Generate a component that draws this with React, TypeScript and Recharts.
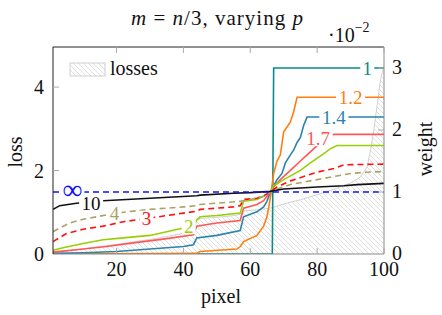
import React from 'react';
import { ComposedChart, Line, Area, XAxis, YAxis, ReferenceDot } from 'recharts';

const FONT = "'Liberation Serif', 'Times New Roman', serif";

// axis ticks
const PIXEL_TICKS = [20, 40, 60, 80, 100];
const LOSS_TICKS = [0, 2, 4];
const WEIGHT_TICKS = [0, 1, 2, 3];

// sorted per-pixel losses (×10^-2), as [pixel, loss]
const LOSSES: [number, number][] = [
  [1, 0.03], [5, 0.07], [10, 0.12], [15, 0.18], [20, 0.23], [25, 0.29], [30, 0.35],
  [35, 0.42], [40, 0.5], [43, 0.56], [44, 0.8], [45, 0.85], [50, 0.88], [55, 0.92],
  [57, 0.95], [58, 1.03], [62, 1.06], [66, 1.1], [67, 1.12], [70, 1.2], [75, 1.3],
  [80, 1.42], [85, 1.55], [90, 1.7], [93, 1.85], [95, 2.1], [96, 2.5], [97, 3.0],
  [98, 3.6], [99, 4.2], [100, 4.5],
];

// weights per pixel for each exponent p, as [pixel, weight]
const W_P1: [number, number][] = [[1, 0], [66.6, 0], [67, 3], [100, 3]];
const W_P12: [number, number][] = [
  [1, 0], [44, 0.01], [45, 0.04], [56, 0.08], [57, 0.12], [58, 0.2], [62, 0.3], [64, 0.45],
  [65, 0.6], [66, 0.9], [67, 1.3], [68, 1.5], [69, 1.6], [70, 1.97], [71, 2.05], [72, 2.13],
  [73, 2.3], [74, 2.53], [100, 2.53],
];
const W_P14: [number, number][] = [
  [1, 0.01], [10, 0.02], [20, 0.04], [30, 0.08], [40, 0.12], [43, 0.15], [44, 0.26], [50, 0.3],
  [57, 0.38], [58, 0.6], [62, 0.68], [64, 0.76], [65, 0.85], [66, 1.0], [67, 1.1], [68, 1.2],
  [69.5, 1.3], [70.5, 1.47], [72, 1.6], [73, 1.68], [74, 1.8], [75, 1.88], [76, 2.08],
  [77, 2.21], [100, 2.21],
];
const W_P17: [number, number][] = [
  [1, 0.03], [10, 0.08], [17, 0.12], [25, 0.18], [34, 0.24], [43, 0.31], [44, 0.45], [50, 0.5],
  [57, 0.54], [58, 0.74], [62, 0.8], [64, 0.86], [66, 1.0], [67, 1.08], [69, 1.2], [72, 1.35],
  [75, 1.5], [77, 1.6], [80, 1.75], [83, 1.88], [85, 1.93], [100, 1.93],
];
const W_P2: [number, number][] = [
  [1, 0.06], [4, 0.1], [10, 0.17], [16, 0.23], [22, 0.26], [30, 0.3], [35, 0.36], [40, 0.42],
  [43, 0.46], [44, 0.55], [45, 0.6], [50, 0.62], [57, 0.66], [58, 0.85], [62, 0.88], [64, 0.93],
  [66, 1.0], [67, 1.1], [70, 1.2], [75, 1.35], [78, 1.47], [82, 1.62], [84, 1.7], [86, 1.75],
  [100, 1.75],
];
const W_P3: [number, number][] = [
  [1, 0.2], [5, 0.33], [10, 0.4], [16, 0.45], [22, 0.52], [30, 0.58], [40, 0.66], [44, 0.69],
  [45, 0.72], [55, 0.76], [57, 0.78], [58, 0.88], [62, 0.9], [64, 0.94], [66, 1.0], [68, 1.08],
  [72, 1.18], [80, 1.32], [85, 1.38], [88, 1.44], [100, 1.45],
];
const W_P4: [number, number][] = [
  [1, 0.36], [3, 0.42], [6, 0.5], [10, 0.56], [19, 0.65], [23, 0.68], [30, 0.72], [40, 0.76],
  [44, 0.78], [45, 0.8], [57, 0.85], [60, 0.88], [64, 0.93], [66, 1.0], [68, 1.05], [72, 1.12],
  [80, 1.2], [85, 1.25], [90, 1.3], [95, 1.32], [100, 1.33],
];
const W_P10: [number, number][] = [
  [1, 0.72], [3, 0.78], [8, 0.82], [16, 0.86], [30, 0.9], [44, 0.94], [45, 0.95], [55, 0.98],
  [60, 0.99], [66, 1.01], [70, 1.05], [80, 1.08], [88, 1.1], [92, 1.12], [100, 1.14],
];
const W_PINF: [number, number][] = [[1, 1], [100, 1]];

// inline series labels: [text, pixel, weight]
const LABEL_P1: [string, number, number] = ['1', 95, 3.0];
const LABEL_P12: [string, number, number] = ['1.2', 90, 2.53];
const LABEL_P14: [string, number, number] = ['1.4', 85, 2.21];
const LABEL_P17: [string, number, number] = ['1.7', 80.3, 1.87];
const LABEL_P2: [string, number, number] = ['2', 41.6, 0.45];
const LABEL_P3: [string, number, number] = ['3', 29, 0.57];
const LABEL_P4: [string, number, number] = ['4', 19.4, 0.66];
const LABEL_P10: [string, number, number] = ['10', 12.4, 0.82];
const LABEL_PINF: [string, number, number] = ['∞', 6.8, 1.0];

const toRows = (pts: [number, number][]) => pts.map(([x, y]) => ({ x, y }));

const SERIES = [
  { key: 'p1', pts: W_P1, label: LABEL_P1, color: '#0a8a8a', dash: undefined },
  { key: 'p12', pts: W_P12, label: LABEL_P12, color: '#ff7f0e', dash: undefined },
  { key: 'p14', pts: W_P14, label: LABEL_P14, color: '#2a84ad', dash: undefined },
  { key: 'p17', pts: W_P17, label: LABEL_P17, color: '#ff5757', dash: undefined },
  { key: 'p2', pts: W_P2, label: LABEL_P2, color: '#96d000', dash: undefined },
  { key: 'p3', pts: W_P3, label: LABEL_P3, color: '#ff1010', dash: '6 4' },
  { key: 'p4', pts: W_P4, label: LABEL_P4, color: '#aca264', dash: '6 4' },
  { key: 'p10', pts: W_P10, label: LABEL_P10, color: '#111111', dash: undefined },
  { key: 'pinf', pts: W_PINF, label: LABEL_PINF, color: '#1010ff', dash: '6 4' },
];

const TICK_COLOR = '#aaaaaa';

const BottomTick = (props: any) => {
  const { x, y, payload } = props;
  return (
    <g>
      <line x1={x} x2={x} y1={y} y2={y - 6} stroke={TICK_COLOR} />
      <text x={x} y={y + 22} textAnchor="middle" fontSize={20} fontFamily={FONT} fill="#111">
        {payload.value}
      </text>
    </g>
  );
};

const TopTick = (props: any) => {
  const { x, y } = props;
  return <line x1={x} x2={x} y1={y} y2={y + 6} stroke={TICK_COLOR} />;
};

const LeftTick = (props: any) => {
  const { x, y, payload } = props;
  return (
    <g>
      {payload.value !== 0 && <line x1={x} x2={x + 6} y1={y} y2={y} stroke={TICK_COLOR} />}
      <text x={x - 9} y={y + 7} textAnchor="end" fontSize={20} fontFamily={FONT} fill="#111">
        {payload.value}
      </text>
    </g>
  );
};

const RightTick = (props: any) => {
  const { x, y, payload } = props;
  return (
    <g>
      {payload.value !== 0 && <line x1={x} x2={x - 6} y1={y} y2={y} stroke={TICK_COLOR} />}
      <text x={x + 8} y={y + 6} textAnchor="start" fontSize={20} fontFamily={FONT} fill="#111">
        {payload.value}
      </text>
    </g>
  );
};

const charWidth = (c: string) => (c === '.' ? 5 : c === '∞' ? 20 : 10);

const makeLabelShape = (text: string, color: string) => (props: any) => {
  const { cx, cy } = props;
  const w = text.split('').reduce((s, c) => s + charWidth(c), 0);
  const isInf = text === '∞';
  return (
    <g>
      <rect x={cx - w / 2 - 2} y={cy - 8} width={w + 4} height={16} fill="#fff" />
      <text
        x={cx}
        y={isInf ? cy + 7 : cy + 6.5}
        textAnchor="middle"
        fontSize={isInf ? 28 : 19}
        fontFamily={FONT}
        fill={color}
      >
        {text}
      </text>
    </g>
  );
};

export default function App() {
  const lossRows = toRows(LOSSES);
  return (
    <div style={{ position: 'absolute', left: 0, top: 0, width: 442, height: 315, background: '#fff' }}>
      <ComposedChart
        width={442}
        height={315}
        margin={{ top: 37, right: 18, bottom: 31, left: 13 }}
        style={{ position: 'absolute', left: 0, top: 0 }}
      >
        <defs>
          <pattern id="hatch" width="5" height="5" patternUnits="userSpaceOnUse">
            <path d="M-1,-1 L6,6 M-1,4 L1,6 M4,-1 L6,1" stroke="#cacaca" strokeWidth="0.6" />
          </pattern>
        </defs>
        <XAxis
          xAxisId="b"
          type="number"
          dataKey="x"
          domain={[1, 100]}
          ticks={PIXEL_TICKS}
          height={30}
          axisLine={{ stroke: '#8a8a8a' }}
          tickLine={false}
          tickSize={0}
          tickMargin={0}
          tick={BottomTick}
          allowDataOverflow
        />
        <XAxis
          xAxisId="t"
          orientation="top"
          type="number"
          dataKey="x"
          domain={[1, 100]}
          ticks={PIXEL_TICKS}
          height={10}
          axisLine={{ stroke: '#222' }}
          tickLine={false}
          tickSize={0}
          tickMargin={0}
          tick={TopTick}
          allowDataOverflow
        />
        <YAxis
          yAxisId="loss"
          orientation="left"
          type="number"
          domain={[0, 4.96]}
          ticks={LOSS_TICKS}
          width={40}
          axisLine={{ stroke: '#222' }}
          tickLine={false}
          tickSize={0}
          tickMargin={0}
          tick={LeftTick}
          allowDataOverflow
        />
        <YAxis
          yAxisId="w"
          orientation="right"
          type="number"
          domain={[0, 3.34]}
          ticks={WEIGHT_TICKS}
          width={40}
          axisLine={{ stroke: '#8a8a8a' }}
          tickLine={false}
          tickSize={0}
          tickMargin={0}
          tick={RightTick}
          allowDataOverflow
        />
        <Area
          xAxisId="b"
          yAxisId="loss"
          data={lossRows}
          dataKey="y"
          type="linear"
          stroke="#d2d2d2"
          strokeWidth={1}
          fill="url(#hatch)"
          fillOpacity={1}
          dot={false}
          activeDot={false}
          isAnimationActive={false}
        />
        {SERIES.map((s) => (
          <Line
            key={s.key}
            xAxisId="b"
            yAxisId="w"
            data={toRows(s.pts)}
            dataKey="y"
            type="linear"
            stroke={s.color}
            strokeWidth={1.6}
            strokeDasharray={s.dash}
            dot={false}
            activeDot={false}
            isAnimationActive={false}
          />
        ))}
        {SERIES.map((s) => (
          <ReferenceDot
            key={'lbl-' + s.key}
            xAxisId="b"
            yAxisId="w"
            x={s.label[1]}
            y={s.label[2]}
            r={0}
            shape={makeLabelShape(s.label[0], s.color)}
          />
        ))}
      </ComposedChart>
      <svg
        width={442}
        height={315}
        style={{ position: 'absolute', left: 0, top: 0, pointerEvents: 'none' }}
      >
        <defs>
          <pattern id="hatchLegend" width="5" height="5" patternUnits="userSpaceOnUse">
            <path d="M-1,-1 L6,6 M-1,4 L1,6 M4,-1 L6,1" stroke="#cacaca" strokeWidth="0.6" />
          </pattern>
        </defs>
        <text
          x={217}
          y={25}
          textAnchor="middle"
          fontSize={21}
          fontFamily={FONT}
          fill="#111"
          textLength={172}
          lengthAdjust="spacing"
        >
          <tspan fontStyle="italic">m</tspan>
          <tspan> = </tspan>
          <tspan fontStyle="italic">n</tspan>
          <tspan>/3, varying </tspan>
          <tspan fontStyle="italic">p</tspan>
        </text>
        <text x={328} y={42} fontSize={20} fontFamily={FONT} fill="#111">
          ·10
          <tspan dy={-10} fontSize={14}>−2</tspan>
        </text>
        <rect x={70} y={63} width={35} height={13} fill="url(#hatchLegend)" stroke="#cfcfcf" strokeWidth={1} />
        <text x={110} y={75} fontSize={20} fontFamily={FONT} fill="#111">
          losses
        </text>
        <text x={221} y={303} textAnchor="middle" fontSize={20} fontFamily={FONT} fill="#111">
          pixel
        </text>
        <text
          x={22}
          y={152}
          textAnchor="middle"
          fontSize={20}
          fontFamily={FONT}
          fill="#111"
          transform="rotate(-90 22 152)"
        >
          loss
        </text>
        <text
          x={432}
          y={149}
          textAnchor="middle"
          fontSize={20}
          fontFamily={FONT}
          fill="#111"
          transform="rotate(-90 432 149)"
        >
          weight
        </text>
      </svg>
    </div>
  );
}
